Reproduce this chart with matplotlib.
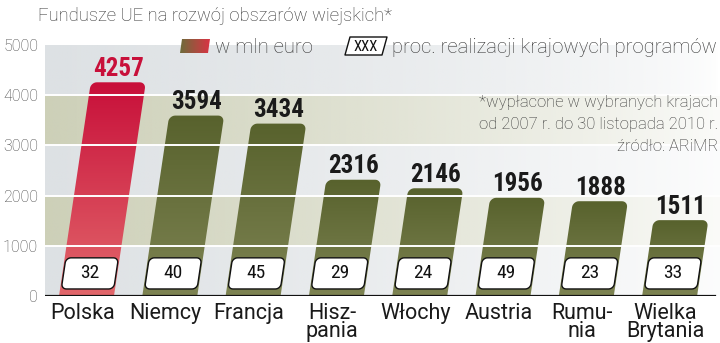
import numpy as np
import matplotlib
matplotlib.use("Agg")
import matplotlib.pyplot as plt
from matplotlib.patches import PathPatch
from matplotlib.path import Path
from matplotlib.colors import to_rgb
from matplotlib import font_manager

# --- data -------------------------------------------------------------
countries = ["Polska", "Niemcy", "Francja", "Hisz-\npania", "Włochy",
             "Austria", "Rumu-\nnia", "Wielka\nBrytania"]
funds_mln_eur = [4257, 3594, 3434, 2316, 2146, 1956, 1888, 1511]
realization_pct = [32, 40, 45, 29, 24, 49, 23, 33]
y_ticks = [0, 1000, 2000, 3000, 4000, 5000]

title = "Fundusze UE na rozwój obszarów wiejskich*"
legend_value = "w mln euro"
legend_pct = "proc. realizacji krajowych programów"
notes = ["*wypłacone w wybranych krajach",
         "od 2007 r. do 30 listopada 2010 r.",
         "źródło: ARiMR"]

# --- style ------------------------------------------------------------
LIGHT = "Roboto"
names = {f.name for f in font_manager.fontManager.ttflist}
narrow = [n for n in ("Liberation Sans Narrow", "DejaVu Sans Condensed",
                      "Roboto Condensed", "Open Sans Condensed") if n in names]
NUM_FONT = (narrow + ["Roboto", "DejaVu Sans"])[:2]
RED_TOP, RED_BOT = "#c8103a", "#e2676b"
OLV_TOP, OLV_BOT = "#58622d", "#7d8352"
BAND_GRAY, BAND_KHAKI = "#dde1e4", "#cdd0b8"
SLANT = 0.0898 / 1000.0       # x-shift (category units) per data unit
BAR_W = 0.66

W, H = 720, 343
fig = plt.figure(figsize=(W / 100, H / 100), dpi=100)
ax = fig.add_axes([45 / W, (H - 296) / H, (720 - 45) / W, (296 - 45) / H])
x0, x1 = -0.498, 7.605
ax.set_xlim(x0, x1)
ax.set_ylim(0, 5000)
for s in ax.spines.values():
    s.set_visible(False)
ax.set_xticks([])
ax.set_yticks(y_ticks)
ax.set_yticklabels([str(t) for t in y_ticks], fontfamily=LIGHT,
                   fontweight="light", fontsize=11.5, color="#444444")
ax.tick_params(axis="y", length=0, pad=5)

# px -> data scale factors for rounded corners
px_x = (x1 - x0) / (720 - 45)
px_y = 5000 / (296 - 45)


def slanted_round_rect(xc, w, y0, y1, r_px, round_bottom):
    """Parallelogram (sheared rounded rectangle) in data coordinates."""
    rx, ry = r_px * px_x, r_px * px_y
    u0, u1 = xc - w / 2, xc + w / 2
    pts = []
    t = np.linspace(0, np.pi / 2, 8)
    for a in t:
        pts.append((u1 - rx + rx * np.sin(a), y1 - ry + ry * np.cos(a)))
    if round_bottom:
        for a in t:
            pts.append((u1 - rx + rx * np.cos(a), y0 + ry - ry * np.sin(a)))
        for a in t:
            pts.append((u0 + rx - rx * np.sin(a), y0 + ry - ry * np.cos(a)))
    else:
        pts.append((u1, y0))
        pts.append((u0, y0))
    for a in t:
        pts.append((u0 + rx - rx * np.cos(a), y1 - ry + ry * np.sin(a)))
    pts = np.array(pts)
    pts[:, 0] = pts[:, 0] + SLANT * pts[:, 1]
    return Path(np.vstack([pts, pts[:1]]), closed=True)


def vgrad(top, bot, n=64):
    a, b = np.array(to_rgb(top)), np.array(to_rgb(bot))
    f = np.linspace(0, 1, n)[:, None]
    return (a * (1 - f) + b * f)[:, None, :]


# background bands fading to white towards the right
alpha = np.clip(np.linspace(1.0, 0.05, 256) ** 0.8, 0, 1)
for k in range(5):
    col = BAND_GRAY if k % 2 == 0 else BAND_KHAKI
    img = np.zeros((1, 256, 4))
    img[..., :3] = to_rgb(col)
    a = alpha.copy()
    if k == 4:
        a = np.clip(np.linspace(1.0, 0.0, 256) ** 0.6, 0, 1)
    img[..., 3] = a
    ax.imshow(img, extent=[x0, x1, k * 1000, (k + 1) * 1000], aspect="auto",
              zorder=0, interpolation="bilinear")

# bars with vertical gradient
for i, v in enumerate(funds_mln_eur):
    path = slanted_round_rect(i, BAR_W, 0, v, 6, False)
    patch = PathPatch(path, facecolor="none", edgecolor="none")
    ax.add_patch(patch)
    top, bot = (RED_TOP, RED_BOT) if i == 0 else (OLV_TOP, OLV_BOT)
    im = ax.imshow(vgrad(top, bot), extent=[i - 0.5, i + 0.9, 0, v],
                   aspect="auto", zorder=2, interpolation="bilinear")
    im.set_clip_path(patch)
    tx = i + SLANT * v
    ax.text(tx, v + 130, f"{v}", ha="center", va="baseline",
            fontfamily=NUM_FONT, fontweight="bold", fontstretch="condensed",
            fontsize=18, color=RED_TOP if i == 0 else "#1a1a1a", zorder=5)

# white grid lines over the bars
for t in y_ticks[1:-1]:
    ax.axhline(t, color="white", lw=1.4, zorder=3)
ax.axhline(0, color="#111111", lw=1.6, zorder=4, xmax=0.992)

# percentage boxes
for i, p in enumerate(realization_pct):
    path = slanted_round_rect(i, 0.63, 140, 760, 5, True)
    ax.add_patch(PathPatch(path, facecolor="white", edgecolor="#111111",
                           lw=1.0, zorder=4))
    ax.text(i + SLANT * 450, 450, f"{p}", ha="center", va="center",
            fontfamily=NUM_FONT, fontstretch="condensed", fontsize=14,
            color="#111111", zorder=5)

# category labels
for i, c in enumerate(countries):
    ax.text(i - 0.05, -130, c, ha="center", va="top", fontfamily="Roboto",
            fontsize=15.5, color="#1a1a1a", linespacing=0.85, clip_on=False)

# title and notes
fig.text(38 / W, 1 - 21 / H, title, ha="left", va="baseline",
         fontfamily=LIGHT, fontweight="light", fontsize=13.3, color="#333333")
for k, line in enumerate(notes):
    fig.text(718 / W, 1 - (107 + 22 * k) / H, line, ha="right", va="baseline",
             fontfamily=LIGHT, fontweight="light", fontsize=12, color="#333333")

# legend: gradient swatch + slanted box
lax = fig.add_axes([0, 0, 1, 1], facecolor="none")
lax.set_xlim(0, W)
lax.set_ylim(H, 0)
lax.axis("off")
sw = np.linspace(0, 1, 64)[None, :, None]
swatch = (np.array(to_rgb("#66703a")) * (1 - sw) +
          np.array(to_rgb("#e03044")) * sw)
sw_patch = PathPatch(Path([(180, 53), (208, 53), (210, 39), (182, 39), (180, 53)],
                          closed=True), facecolor="none", edgecolor="none")
lax.add_patch(sw_patch)
im = lax.imshow(swatch, extent=[178, 212, 53, 39], aspect="auto",
                interpolation="bilinear")
im.set_clip_path(sw_patch)
lax.text(215, 53, legend_value, ha="left", va="baseline", fontfamily=LIGHT,
         fontweight="light", fontsize=14.6, color="#333333")
box = Path([(345, 55), (382, 55), (387, 37), (350, 37), (345, 55)], closed=True)
lax.add_patch(PathPatch(box, facecolor="white", edgecolor="#111111", lw=1.0,
                        joinstyle="round"))
lax.text(366, 47, "XXX", ha="center", va="center", fontfamily=NUM_FONT,
         fontstretch="condensed", fontsize=10.5, color="#111111")
lax.text(392, 53, legend_pct, ha="left", va="baseline", fontfamily=LIGHT,
         fontweight="light", fontsize=14.6, color="#333333")

fig.savefig("out.png", dpi=100, facecolor="white")
